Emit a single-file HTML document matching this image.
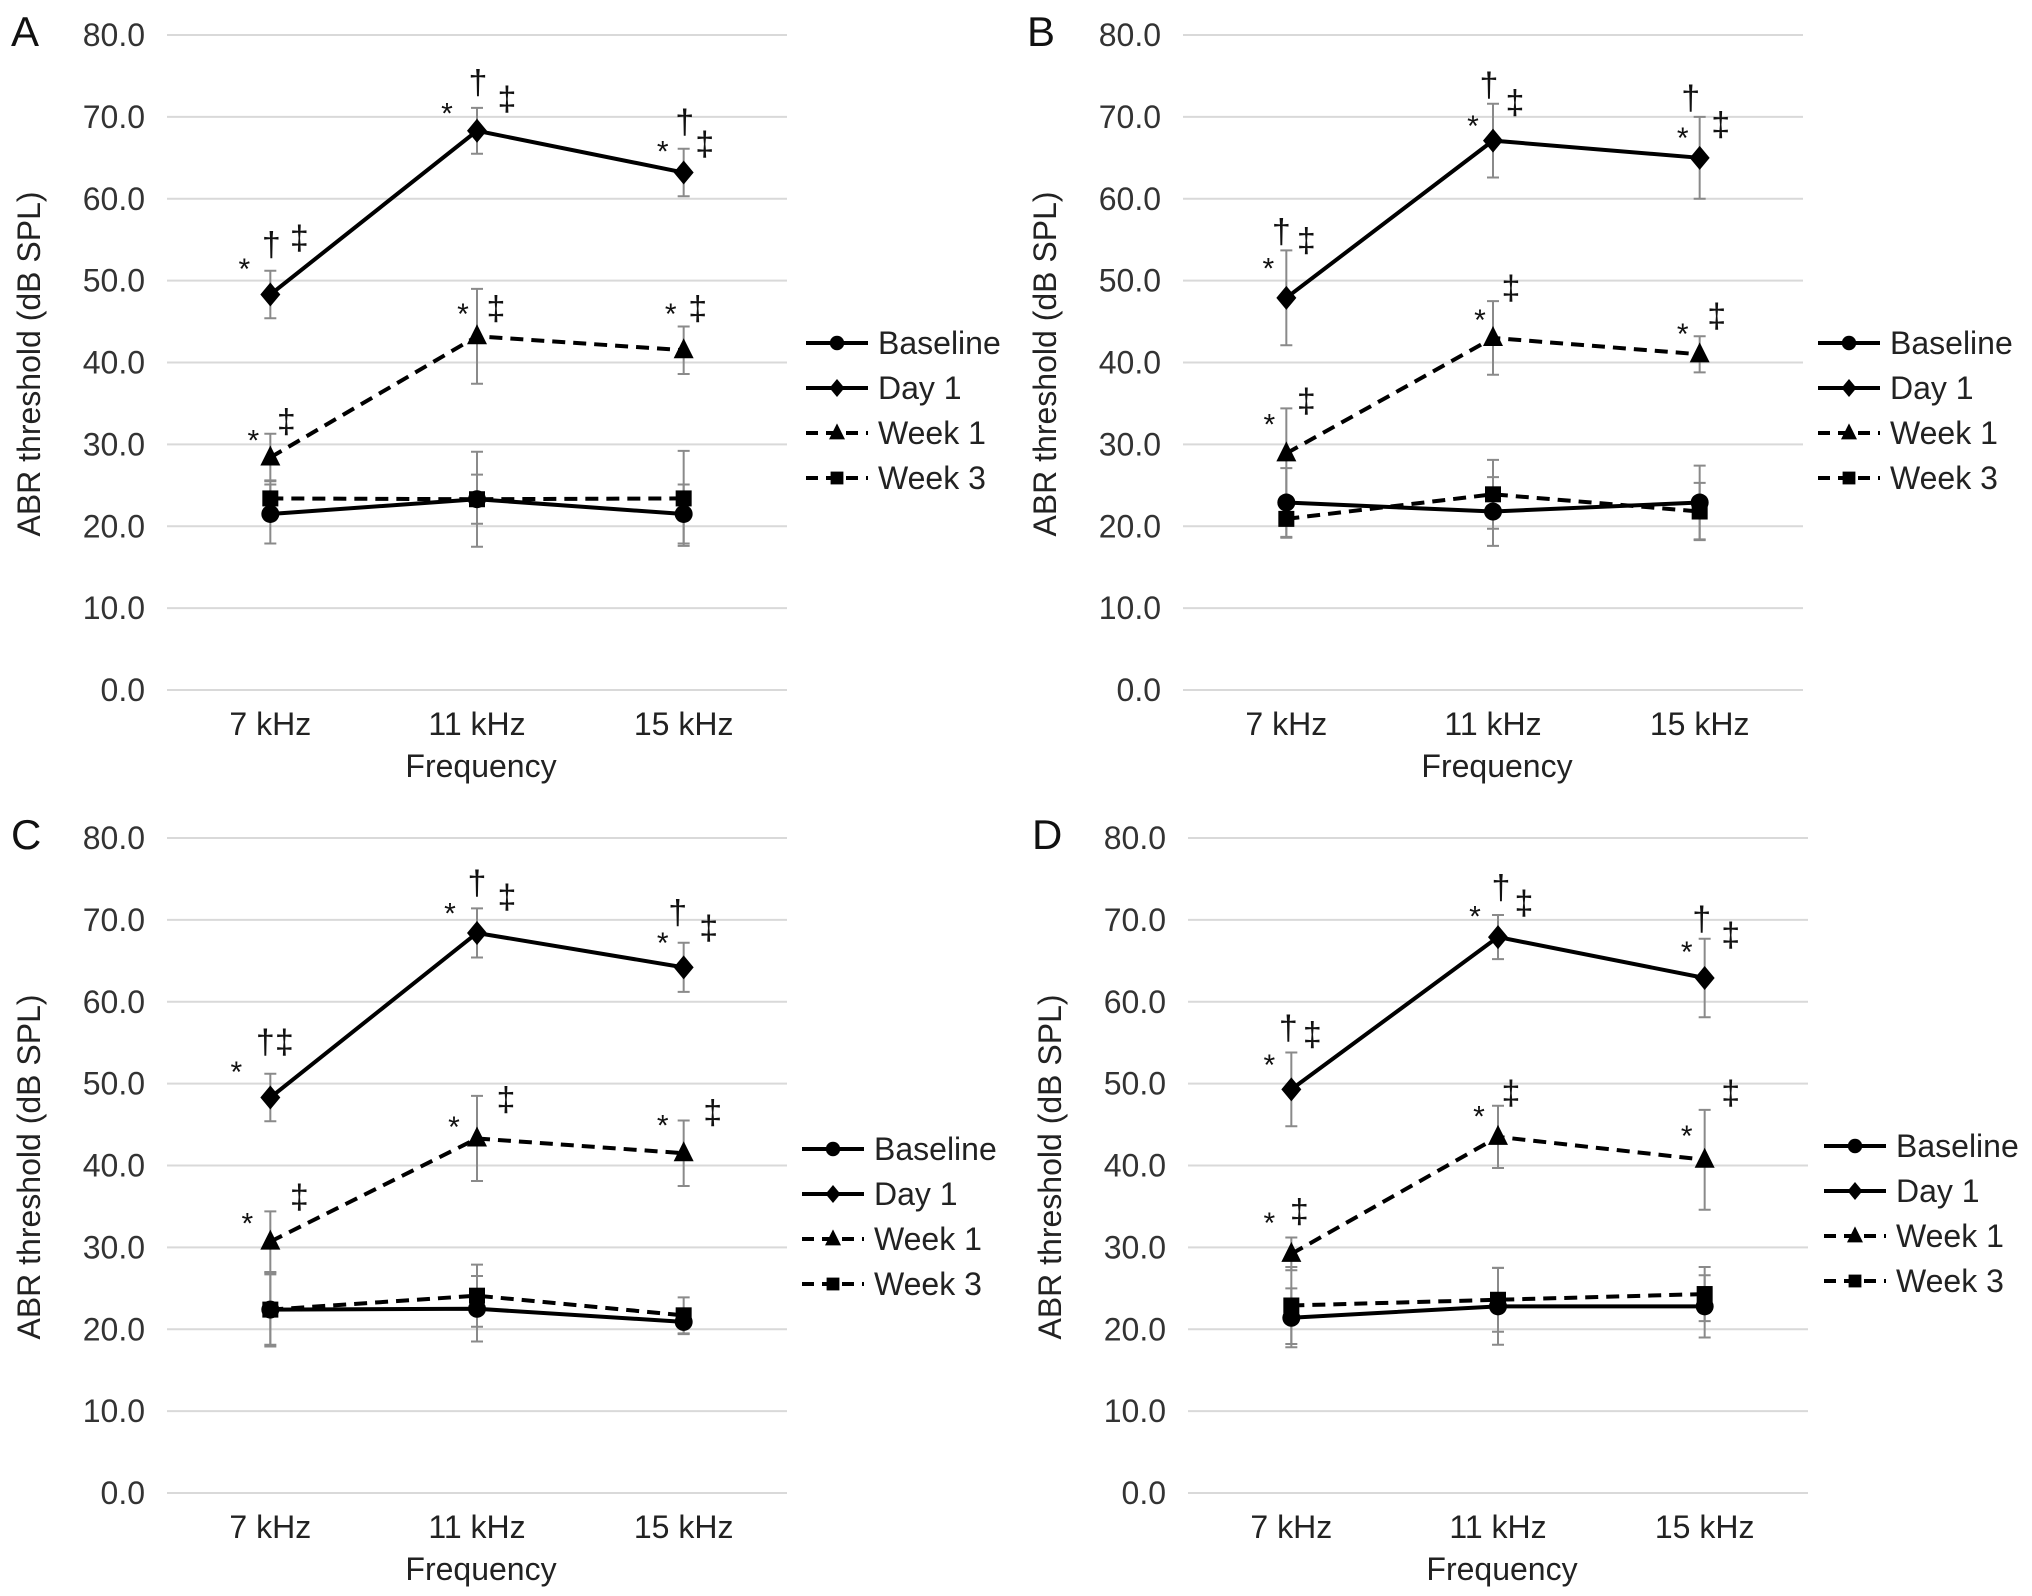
<!DOCTYPE html>
<html><head><meta charset="utf-8">
<style>
html,body{margin:0;padding:0;background:#fff;}
svg{display:block;font-family:"Liberation Sans",Arial,sans-serif;}
</style></head>
<body>
<svg id="fig" width="2032" height="1596" viewBox="0 0 2032 1596" xmlns="http://www.w3.org/2000/svg"></svg>
<script>
// ---- data ----
const categories = ["7 kHz", "11 kHz", "15 kHz"];
const yTicks = [0, 10, 20, 30, 40, 50, 60, 70, 80];
const yTickLabels = ["0.0","10.0","20.0","30.0","40.0","50.0","60.0","70.0","80.0"];
const seriesNames = ["Baseline", "Day 1", "Week 1", "Week 3"];
const panelLetters = ["A", "B", "C", "D"];

// Panel A
const A_baseline = [21.5, 23.3, 21.5];
const A_baselineErr = [3.6, 3.0, 3.6];
const A_day1 = [48.3, 68.3, 63.2];
const A_day1Err = [2.9, 2.8, 2.9];
const A_week1 = [28.4, 43.2, 41.5];
const A_week1Err = [2.9, 5.8, 2.9];
const A_week3 = [23.4, 23.3, 23.4];
const A_week3Err = [2.2, 5.8, 5.8];
// Panel B
const B_baseline = [22.9, 21.8, 22.9];
const B_baselineErr = [4.2, 4.2, 4.5];
const B_day1 = [47.9, 67.1, 65.0];
const B_day1Err = [5.8, 4.5, 5.0];
const B_week1 = [28.9, 43.0, 41.0];
const B_week1Err = [5.5, 4.5, 2.2];
const B_week3 = [20.9, 23.9, 21.8];
const B_week3Err = [2.3, 4.2, 3.5];
// Panel C
const C_baseline = [22.4, 22.5, 20.9];
const C_baselineErr = [4.3, 4.0, 1.5];
const C_day1 = [48.3, 68.4, 64.2];
const C_day1Err = [2.9, 3.0, 3.0];
const C_week1 = [30.7, 43.3, 41.5];
const C_week1Err = [3.7, 5.2, 4.0];
const C_week3 = [22.4, 24.1, 21.7];
const C_week3Err = [4.5, 3.8, 2.2];
// Panel D
const D_baseline = [21.4, 22.8, 22.8];
const D_baselineErr = [3.6, 4.7, 3.8];
const D_day1 = [49.3, 67.9, 62.9];
const D_day1Err = [4.5, 2.7, 4.8];
const D_week1 = [29.2, 43.5, 40.7];
const D_week1Err = [2.0, 3.8, 6.1];
const D_week3 = [22.9, 23.6, 24.3];
const D_week3Err = [4.7, 3.9, 3.3];

// significance marks: [category index, value, x-offset px, symbol]
const A_marks = [[0,51.4,-26,"*"],[0,54.2,1,"†"],[0,55,29,"‡"],[1,70.4,-30,"*"],[1,74,1,"†"],[1,72,30,"‡"],[2,65.8,-21,"*"],[2,69.2,1,"†"],[2,66.5,21,"‡"],[0,30.5,-17,"*"],[0,32.6,16,"‡"],[1,45.9,-14,"*"],[1,46.4,19,"‡"],[2,45.9,-13,"*"],[2,46.4,14,"‡"]];
const B_marks = [[0,51.5,-18,"*"],[0,55.8,-5,"†"],[0,54.7,20,"‡"],[1,68.9,-20,"*"],[1,73.7,-4,"†"],[1,71.6,22,"‡"],[2,67.4,-17,"*"],[2,72.1,-9,"†"],[2,68.9,21,"‡"],[0,32.4,-17,"*"],[0,35.1,20,"‡"],[1,45.2,-13,"*"],[1,48.9,18,"‡"],[2,43.5,-17,"*"],[2,45.5,17,"‡"]];
const C_marks = [[0,51.4,-34,"*"],[0,54.9,-5,"†"],[0,54.9,14,"‡"],[1,70.8,-27,"*"],[1,74.3,0,"†"],[1,72.6,30,"‡"],[2,67.2,-21,"*"],[2,70.7,-6,"†"],[2,68.8,25,"‡"],[0,32.9,-23,"*"],[0,36,29,"‡"],[1,44.7,-23,"*"],[1,47.9,29,"‡"],[2,44.9,-21,"*"],[2,46.3,29,"‡"]];
const D_marks = [[0,52.3,-22,"*"],[0,56.6,-3,"†"],[0,55.8,21,"‡"],[1,70.4,-23,"*"],[1,73.8,3,"†"],[1,71.9,26,"‡"],[2,66.1,-18,"*"],[2,69.9,-3,"†"],[2,68,26,"‡"],[0,33,-22,"*"],[0,34.2,8,"‡"],[1,46,-19,"*"],[1,48.7,13,"‡"],[2,43.6,-18,"*"],[2,48.7,26,"‡"]];

// ---- drawing ----
const NS = "http://www.w3.org/2000/svg";
const svg = document.getElementById("fig");
function mk(tag, attrs, parent){
  const e = document.createElementNS(NS, tag);
  for (const k in attrs) e.setAttribute(k, attrs[k]);
  (parent||svg).appendChild(e);
  return e;
}
const panels = [
  {dx:0, dy:0, ldx:0, ldy:0, data:[A_baseline,A_day1,A_week1,A_week3], err:[A_baselineErr,A_day1Err,A_week1Err,A_week3Err], marks:A_marks},
  {dx:1016, dy:0, ldx:1012, ldy:0, data:[B_baseline,B_day1,B_week1,B_week3], err:[B_baselineErr,B_day1Err,B_week1Err,B_week3Err], marks:B_marks},
  {dx:0, dy:803, ldx:-4, ldy:806, data:[C_baseline,C_day1,C_week1,C_week3], err:[C_baselineErr,C_day1Err,C_week1Err,C_week3Err], marks:C_marks},
  {dx:1021, dy:803, ldx:1018, ldy:803, data:[D_baseline,D_day1,D_week1,D_week3], err:[D_baselineErr,D_day1Err,D_week1Err,D_week3Err], marks:D_marks}
];
const styles = [
  {dash:null, marker:"circle"},
  {dash:null, marker:"diamond"},
  {dash:"13 8", marker:"triangle"},
  {dash:"13 8", marker:"square"}
];
const pNames = ["baseline","day-1","week-1","week-3"];

function marker(g, type, x, y, s){
  let m;
  if (type==="circle") m = mk("circle",{cx:x,cy:y,r:9*s,fill:"#000"},g);
  else if (type==="diamond") m = mk("polygon",{points:`${x},${y-12*s} ${x+10*s},${y} ${x},${y+12*s} ${x-10*s},${y}`,fill:"#000"},g);
  else if (type==="triangle") m = mk("polygon",{points:`${x},${y-12*s} ${x+10*s},${y+8*s} ${x-10*s},${y+8*s}`,fill:"#000"},g);
  else m = mk("rect",{x:x-8*s,y:y-8*s,width:16*s,height:16*s,fill:"#000"},g);
  return m;
}

panels.forEach((p, pi) => {
  const left = 167 + p.dx, right = 787 + p.dx;
  const y80 = 35 + p.dy, y0 = 690 + p.dy;
  const yS = v => y0 - (v/80)*(y0-y80);
  const band = (right-left)/categories.length;
  const xS = i => left + (i+0.5)*band;

  const g = mk("g",{});
  
  

  const letter = mk("text",{x:11+p.dx, y:46+p.dy, "font-size":42, fill:"#111"},g);
  letter.textContent = panelLetters[pi];
  
  

  yTicks.forEach((t, ti) => {
    const gl = mk("line",{x1:left,x2:right,y1:yS(t),y2:yS(t),stroke:"#d9d9d9","stroke-width":2},g);
    
    
    const tl = mk("text",{x:left-22,y:yS(t)+11,"text-anchor":"end","font-size":32,fill:"#333"},g);
    tl.textContent = yTickLabels[ti];
    
    
  });

  categories.forEach((c, ci) => {
    const t = mk("text",{x:xS(ci),y:735+p.dy,"text-anchor":"middle","font-size":32,fill:"#222"},g);
    t.textContent = c;
    
    
  });
  const xt = mk("text",{x:(left+right)/2+4,y:777+p.dy,"text-anchor":"middle","font-size":32,fill:"#222"},g);
  xt.textContent = "Frequency";
  
  
  const yt = mk("text",{x:0,y:0,"text-anchor":"middle","font-size":32,fill:"#222",transform:`translate(${40+p.dx},${364+p.dy}) rotate(-90)`},g);
  yt.textContent = "ABR threshold (dB SPL)";
  
  

  // error bars
  p.data.forEach((vals, si) => {
    vals.forEach((v, ci) => {
      const e = p.err[si][ci], x = xS(ci);
      const eb = mk("path",{d:`M${x},${yS(v+e)}V${yS(v-e)}M${x-6},${yS(v+e)}H${x+6}M${x-6},${yS(v-e)}H${x+6}`,stroke:"#8a8a8a","stroke-width":2,fill:"none"},g);
      
      
    });
  });
  [3,2,1,0].forEach(si => {
    const vals = p.data[si];
    const st = styles[si];
    const pts = vals.map((v,ci)=>`${xS(ci)},${yS(v)}`).join(" ");
    const ln = mk("polyline",{points:pts,fill:"none",stroke:"#000","stroke-width":4});
    g.appendChild(ln);
    if (st.dash) ln.setAttribute("stroke-dasharray", st.dash);
    
    
    vals.forEach((v,ci) => {
      const m = marker(g, st.marker, xS(ci), yS(v), 1);
      
      
    });
  });
  p.marks.forEach(mm => {
    const t = mk("text",{x:xS(mm[0])+mm[2], y:yS(mm[1])+10, "text-anchor":"middle","font-size":mm[3]==="*"?30:34, fill:"#111"},g);
    t.textContent = mm[3];
    
    
  });

  // legend
  const lg = mk("g",{},g);
  
  
  seriesNames.forEach((n, si) => {
    const ly = 343 + si*45 + p.ldy;
    const lx = 806 + p.ldx;
    const st = styles[si];
    const ent = mk("g",{},lg);
    
    
    const l = mk("line",{x1:lx,x2:lx+62,y1:ly,y2:ly,stroke:"#000","stroke-width":4},ent);
    if (st.dash) l.setAttribute("stroke-dasharray","12 8");
    marker(ent, st.marker, lx+31, ly, si===1?0.75:0.8);
    const t = mk("text",{x:lx+72,y:ly+11,"font-size":32,fill:"#222"},ent);
    t.textContent = n;
  });
});
</script>
</body></html>
